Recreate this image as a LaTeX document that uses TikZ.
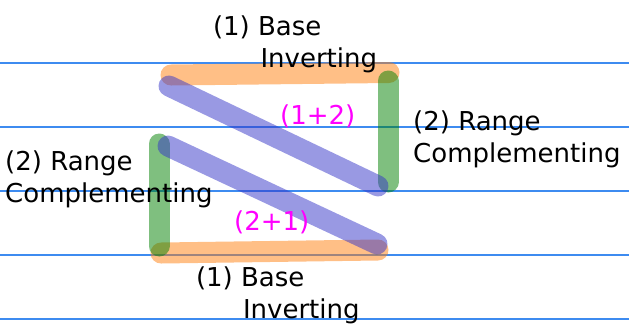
\documentclass[tikz,border=0pt]{standalone}
\usepackage{fontspec}
\setmainfont{DejaVu Sans}
\usetikzlibrary{positioning}
\definecolor{rbBase}{HTML}{FF7F0E}
\definecolor{rbRange}{HTML}{008000}
\definecolor{rbDiag}{HTML}{3434C8}
\definecolor{rbRule}{HTML}{3D8BF0}
\definecolor{rbSum}{HTML}{FF00FF}
\tikzset{
  rule/.style={draw=rbRule, line width=1.2pt},
  band/.style={line width=21pt, line cap=round, opacity=0.5},
  baseband/.style={band, draw=rbBase},
  rangeband/.style={band, draw=rbRange},
  diagband/.style={band, draw=rbDiag},
  lbl/.style={font=\fontsize{26}{32}\selectfont, align=left, inner sep=0pt, anchor=base west},
  sumlbl/.style={lbl, text=rbSum}
}

\begin{document}
\begin{tikzpicture}[x=1pt, y=-1pt]
  \useasboundingbox (0,0) rectangle (629,325);
  % horizontal rules
  \foreach \y in {63,127,191,255,319}{\draw[rule] (0,\y) -- (629,\y);}
  % band end points
  \coordinate (tl) at (171,75);
  \coordinate (tr) at (389,72.5);
  \coordinate (rt) at (388,81);
  \coordinate (rb) at (388,182);
  \coordinate (ua) at (169,86);
  \coordinate (ub) at (378,186);
  \coordinate (lt) at (159,144);
  \coordinate (lb) at (159,246);
  \coordinate (la) at (168,146);
  \coordinate (lz) at (377,244);
  \coordinate (bl) at (161,253);
  \coordinate (br) at (378,250);
  % bands
  \draw[baseband] (tl) -- (tr);
  \draw[baseband] (bl) -- (br);
  \draw[rangeband] (rt) -- (rb);
  \draw[rangeband] (lt) -- (lb);
  \draw[diagband] (ua) -- (ub);
  \draw[diagband] (la) -- (lz);
  % labels (base anchor sits on the last line)
  \node[lbl] (topbase) at (212.8,67) {(1) Base\\\hspace*{47.5pt}Inverting};
  \node[lbl] (botbase) at (195.8,318) {(1) Base\\\hspace*{47pt}Inverting};
  \node[lbl] (rightrange) at (413,162) {(2) Range\\Complementing};
  \node[lbl] (leftrange) at (5,202) {(2) Range\\Complementing};
  \node[sumlbl] (sumup) at (280,124.7) {(1+2)};
  \node[sumlbl] (sumdown) at (234,230) {(2+1)};
\end{tikzpicture}
\end{document}
